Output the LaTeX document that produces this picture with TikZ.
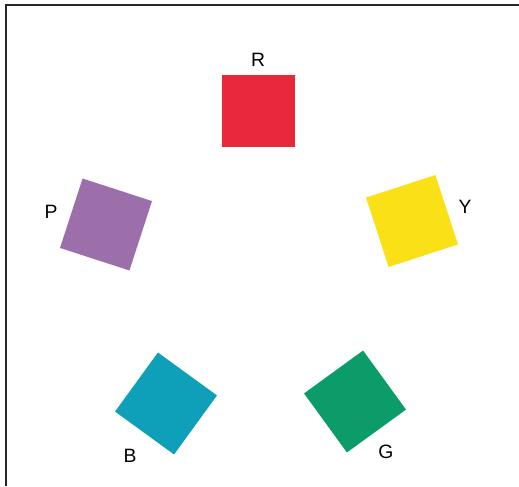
\documentclass[tikz,border=0pt]{standalone}
\usepackage{fontspec}
\setmainfont{Liberation Sans}
\definecolor{hueR}{RGB}{233,40,60}
\definecolor{hueY}{RGB}{250,224,22}
\definecolor{hueG}{RGB}{12,156,106}
\definecolor{hueB}{RGB}{14,160,184}
\definecolor{hueP}{RGB}{156,110,170}
\definecolor{framegray}{RGB}{40,40,40}
\usetikzlibrary{positioning}

\tikzset{
  swatch/.style={rectangle, inner sep=0pt, minimum size=1.46cm},
  huelabel/.style={font=\fontsize{11}{13}\selectfont, text=black, inner sep=0pt}
}

\begin{document}
\begin{tikzpicture}[x=0.02cm, y=-0.02cm]
  \useasboundingbox (0,0) rectangle (519,486);
  \draw[framegray, line width=0.6pt] (6,486) -- (6,5) -- (519,5);

  \node[swatch, fill=hueR, rotate=0] (sqR) at (258,111) {};
  \node[swatch, fill=hueY, rotate=18] (sqY) at (412,221) {};
  \node[swatch, fill=hueG, rotate=36] (sqG) at (355,401.5) {};
  \node[swatch, fill=hueB, rotate=-36] (sqB) at (166,403.5) {};
  \node[swatch, fill=hueP, rotate=-18] (sqP) at (106,224.5) {};

  \node[huelabel] (labR) at (258,60) {R};
  \node[huelabel] (labY) at (465,207) {Y};
  \node[huelabel] (labG) at (386,452) {G};
  \node[huelabel] (labB) at (130,456) {B};
  \node[huelabel] (labP) at (51,212) {P};
\end{tikzpicture}
\end{document}
